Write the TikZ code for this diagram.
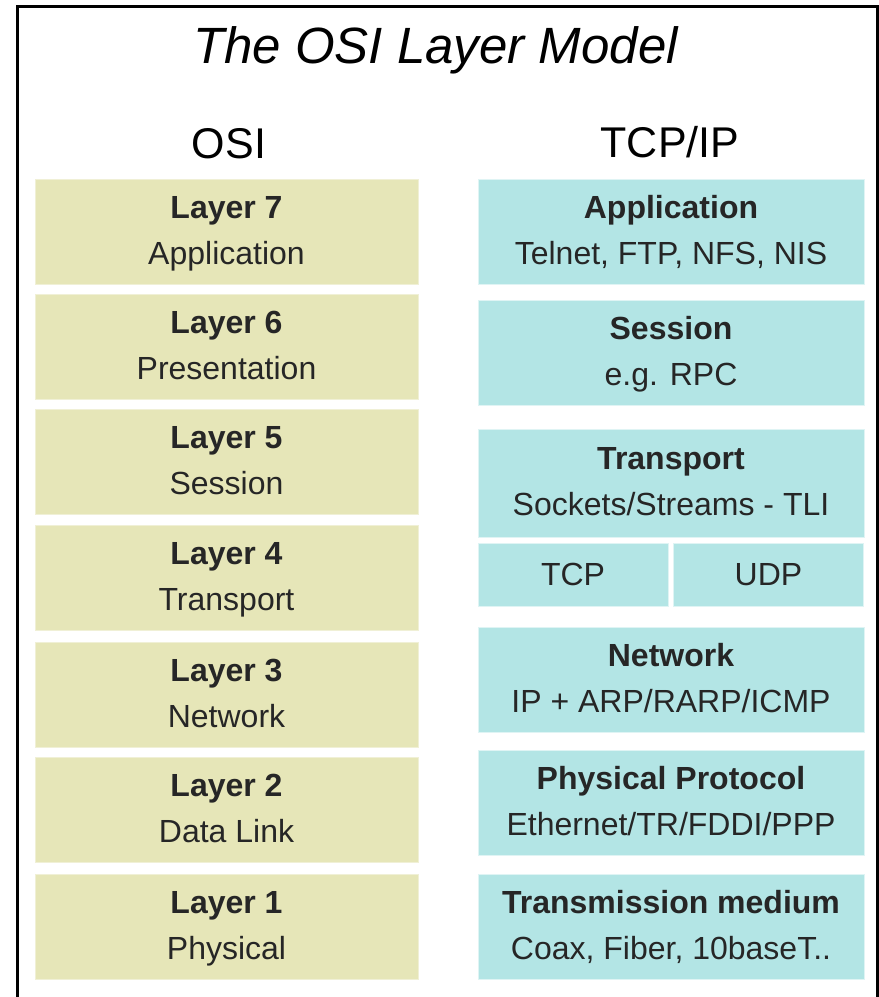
\documentclass[tikz,border=0pt]{standalone}
\usepackage{fontspec}
\setmainfont{Liberation Sans}

\definecolor{osifill}{HTML}{E6E6B8}
\definecolor{osiedge}{HTML}{F0F0D6}
\definecolor{tcpfill}{HTML}{B3E5E5}
\definecolor{tcpedge}{HTML}{DFF4F4}

% strut for the two line boxes
\newcommand{\lstr}{\rule[-4pt]{0pt}{17.5pt}}

\tikzset{
  layerbox/.style={rectangle, inner sep=0pt, line width=0.5pt, align=center,
    font=\fontsize{16}{23}\selectfont, text=black!85},
  osibox/.style={layerbox, fill=osifill, draw=osiedge,
    minimum width=191.5pt, minimum height=52.5pt},
  tcpbox/.style={layerbox, fill=tcpfill, draw=tcpedge,
    minimum width=193pt, minimum height=52.5pt},
  halfbox/.style={tcpbox, minimum width=95pt, minimum height=31.5pt}
}

\begin{document}
\begin{tikzpicture}[x=0.5pt,y=-0.5pt]

        \useasboundingbox (0,0) rectangle (879,997);

        % frame
        \draw[line width=1.5pt] (17.5,997) -- (17.5,6.5) -- (877.5,6.5) -- (877.5,997);

        \node[anchor=base, font=\fontsize{25.5}{30}\selectfont\itshape] (title) at (435.5,63) {The OSI Layer Model};
        \node[anchor=base, font=\fontsize{21.5}{26}\selectfont] (osihead) at (229,158) {OSI};
        \node[anchor=base, font=\fontsize{21.5}{26}\selectfont] (tcphead) at (670,157) {TCP/IP};

        \begin{scope}[every node/.style={osibox}]
          \node (osi7) at (226.5,231.5) {\lstr\textbf{Layer 7}\\\lstr Application};
          \node (osi6) at (226.5,347)   {\lstr\textbf{Layer 6}\\\lstr Presentation};
          \node (osi5) at (226.5,462)   {\lstr\textbf{Layer 5}\\\lstr Session};
          \node (osi4) at (226.5,577.5) {\lstr\textbf{Layer 4}\\\lstr Transport};
          \node (osi3) at (226.5,694.5) {\lstr\textbf{Layer 3}\\\lstr Network};
          \node (osi2) at (226.5,809.5) {\lstr\textbf{Layer 2}\\\lstr Data Link};
          \node (osi1) at (226.5,927)   {\lstr\textbf{Layer 1}\\\lstr Physical};
        \end{scope}

        \begin{scope}[every node/.style={tcpbox}]
          \node (app) at (671,231.5) {\lstr\textbf{Application}\\\lstr Telnet, FTP, NFS, NIS};
          \node (ses) at (671,353)   {\lstr\textbf{Session}\\\lstr e.g. RPC};
          \node[minimum height=54pt] (tra) at (671,483) {\lstr\textbf{Transport}\\\lstr Sockets/Streams - TLI};
          \node (net) at (671,679.5) {\lstr\textbf{Network}\\\lstr IP + ARP/RARP/ICMP};
          \node (phy) at (671,803)   {\lstr\textbf{Physical Protocol}\\\lstr Ethernet/TR/FDDI/PPP};
          \node (med) at (671,927)   {\lstr\textbf{Transmission medium}\\\lstr Coax, Fiber, 10baseT..};
        \end{scope}

        \begin{scope}[every node/.style={halfbox}]
          \node (tcp) at (573,574.5)   {TCP};
          \node (udp) at (768.5,574.5) {UDP};
        \end{scope}

      \end{tikzpicture}
\end{document}
